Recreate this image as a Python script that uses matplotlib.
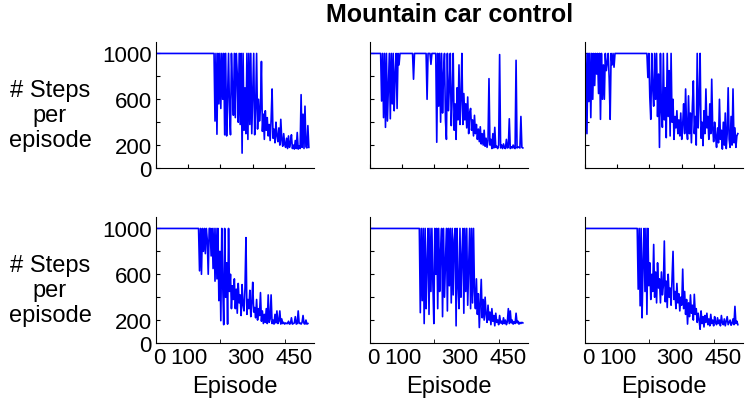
import numpy as np
import matplotlib
matplotlib.use("Agg")
import matplotlib.pyplot as plt
import matplotlib.transforms as mtransforms

plt.rcParams['font.family'] = ['Liberation Sans', 'DejaVu Sans']

# steps per episode, one value every 3 episodes
step = 3

run_top_left = [1000] * 60 + [
    1000, 410, 1000, 295, 1000, 560, 1000, 520, 1000, 600, 1000, 290, 1000, 280, 620,
    1000, 480, 290, 1000, 700, 460, 1000, 440, 1000, 820, 400, 1000, 380, 1000, 130,
    1000, 330, 700, 300, 1000, 250, 1000, 380, 1000, 300, 650, 1000, 290, 520, 1000,
    340, 600, 410, 520, 930, 320, 470, 250, 500, 330, 440, 280, 380, 240, 420,
    690, 260, 340, 220, 400, 280, 230, 350, 200, 425, 250, 190, 300, 210, 180,
    260, 170, 280, 180, 220, 290, 170, 200, 165, 240, 170, 310, 165, 190, 170,
    640, 180, 470, 170, 540, 185, 175, 370, 180]

run_top_mid = [1000] * 12 + [
    585, 1000, 440, 1000, 355, 1000, 410, 700, 1000, 430, 1000, 560, 1000, 500, 830,
    1000, 520, 1000, 900, 1000] + [1000] * 13 + [775] + [1000] * 13 + [600] + \
    [1000] * 3 + [905] + [1000] * 5 + [
    225, 1000, 540, 1000, 400, 1000, 480, 820, 1000, 420, 250, 1000, 500, 700, 1000,
    370, 620, 1000, 330, 560, 250, 700, 420, 900, 380, 600, 1000, 380, 650, 420,
    560, 350, 620, 300, 480, 520, 330, 420, 280, 460, 300, 380, 250, 340, 230,
    360, 210, 300, 200, 330, 190, 260, 180, 240, 780, 200, 250, 170, 300, 175,
    355, 180, 190, 170, 200, 990, 175, 200, 170, 210, 175, 170, 250, 175, 180,
    430, 170, 185, 175, 200, 175, 170, 940, 175, 185, 180, 175, 450, 180, 175]

run_top_right = [
    135, 1000, 300, 1000, 580, 1000, 440, 1000, 600, 1000, 720, 1000, 820, 1000, 650,
    1000, 425, 1000, 600, 900, 600, 1000, 850, 920, 1000, 780, 425, 1000, 900, 1000,
    880, 1000] + [1000] * 32 + [
    1000, 790, 1000, 620, 425, 1000, 700, 540, 1000, 600, 1000, 450, 820, 180, 1000,
    500, 355, 1000, 420, 700, 265, 1000, 450, 850, 280, 1000, 400, 600, 250, 450,
    350, 500, 300, 420, 280, 480, 250, 380, 560, 300, 690, 350, 250, 630, 300,
    480, 220, 540, 760, 300, 450, 200, 1000, 350, 580, 1000, 260, 400, 195, 500,
    300, 690, 350, 450, 250, 560, 300, 775, 350, 230, 400, 280, 180, 350, 220,
    600, 250, 330, 165, 400, 200, 480, 170, 300, 700, 250, 180, 450, 200, 690,
    220, 350, 180, 280, 300]

run_bot_left = [1000] * 45 + [
    630, 1000, 600, 1000, 800, 1000, 780, 1000, 900, 600, 1000, 1000, 760, 1000, 650,
    1000, 540, 1000, 560, 1000, 370, 800, 195, 1000, 500, 160, 1000, 400, 700, 165,
    1000, 450, 600, 300, 500, 380, 560, 300, 470, 260, 520, 350, 420, 240, 510,
    330, 280, 480, 920, 250, 380, 300, 460, 230, 350, 530, 270, 310, 220, 380,
    200, 300, 240, 440, 190, 280, 170, 250, 180, 300, 170, 420, 180, 210, 420,
    170, 200, 165, 250, 175, 280, 170, 190, 280, 165, 210, 170, 180, 165, 175,
    170, 170, 190, 165, 170, 220, 165, 170, 175, 230, 165, 170, 280, 170, 175,
    165, 180, 240, 170, 165, 200, 165, 170]

run_bot_mid = [1000] * 52 + [
    265, 1000, 370, 1000, 170, 1000, 300, 700, 1000, 250, 1000, 450, 1000, 520, 170,
    1000, 600, 1000, 300, 1000, 450, 800, 1000, 230, 1000, 400, 700, 1000, 280, 1000,
    500, 1000, 350, 1000, 420, 900, 1000, 150, 1000, 500, 300, 1000, 400, 750, 1000,
    260, 1000, 450, 1000, 330, 650, 1000, 300, 1000, 350, 1000, 450, 300, 560, 250,
    430, 135, 340, 555, 220, 380, 200, 400, 250, 180, 330, 200, 270, 160, 300,
    190, 240, 150, 260, 180, 200, 160, 240, 175, 190, 165, 220, 170, 200, 160,
    185, 300, 170, 280, 175, 200, 165, 185, 170, 260, 175, 190, 165, 180, 170,
    180, 175]

run_bot_right = [1000] * 55 + [
    470, 1000, 325, 1000, 220, 700, 1000, 450, 1000, 250, 1000, 500, 700, 380, 600,
    450, 860, 400, 620, 350, 700, 480, 560, 350, 620, 420, 500, 890, 360, 540,
    310, 600, 400, 480, 330, 560, 800, 380, 450, 300, 520, 350, 430, 280, 400,
    330, 645, 300, 450, 250, 380, 165, 350, 230, 420, 260, 330, 200, 425, 250,
    300, 180, 260, 200, 120, 280, 170, 230, 140, 240, 180, 260, 160, 210, 150,
    250, 170, 200, 150, 230, 180, 160, 220, 170, 200, 150, 240, 175, 160, 210,
    150, 190, 230, 160, 180, 200, 155, 170, 210, 160, 320, 170, 190, 160]

runs = [run_top_left, run_top_mid, run_top_right,
        run_bot_left, run_bot_mid, run_bot_right]

fig = plt.figure(figsize=(7.45, 4.06), dpi=100)
W, H = 745, 406
lefts = [156, 370, 585]
tops = [43, 218]
aw, ah = 158, 126

fs_tick = 16
fs_lab = 17
# small nudges (px) of the x tick labels, as drawn in the original
label_nudge = [3, 1, -7, -7]
for i, vals in enumerate(runs):
    r, c = divmod(i, 3)
    ax = fig.add_axes([lefts[c] / W, 1 - (tops[r] + ah) / H, aw / W, ah / H])
    ep = np.arange(len(vals)) * step
    ax.plot(ep, vals, color='b', lw=1.2)
    ax.set_xlim(0, 490)
    ax.set_ylim(0, 1100)
    for s in ['top', 'right']:
        ax.spines[s].set_visible(False)
    ax.set_yticks([0, 200, 400, 600, 800, 1000])
    ax.set_xticks([0, 100, 200, 300, 400])
    ax.tick_params(direction='in', length=3, width=0.8)
    ax.set_xticklabels([])
    if c == 0:
        ax.set_yticklabels(['0', '200', '', '600', '', '1000'], fontsize=fs_tick)
        fig.text(50 / W, 1 - (tops[r] + 73) / H, '# Steps\nper\nepisode',
                 ha='center', va='center', fontsize=fs_lab, linespacing=1.15)
    else:
        ax.set_yticklabels([])
    if r == 1:
        ax.set_xticks([0, 100, 300, 450], minor=False)
        ax.set_xticklabels(['0', '100', '300', '450'], fontsize=fs_tick)
        ax.set_xticks([100, 200, 300, 400], minor=True)
        ax.tick_params(axis='x', which='major', length=0, pad=3)
        ax.tick_params(axis='x', which='minor', direction='in', length=3)
        ax.set_xlabel('Episode', fontsize=fs_lab, labelpad=5)
        for lab, dx in zip(ax.get_xticklabels(), label_nudge):
            off = mtransforms.ScaledTranslation(dx / 100, 0, fig.dpi_scale_trans)
            lab.set_transform(lab.get_transform() + off)
    ax.tick_params(axis='y', pad=3)

fig.text(450 / W, 1 - 15 / H, 'Mountain car control', ha='center', va='center',
         fontsize=18, fontweight='bold')

fig.savefig('out.png', dpi=100)
